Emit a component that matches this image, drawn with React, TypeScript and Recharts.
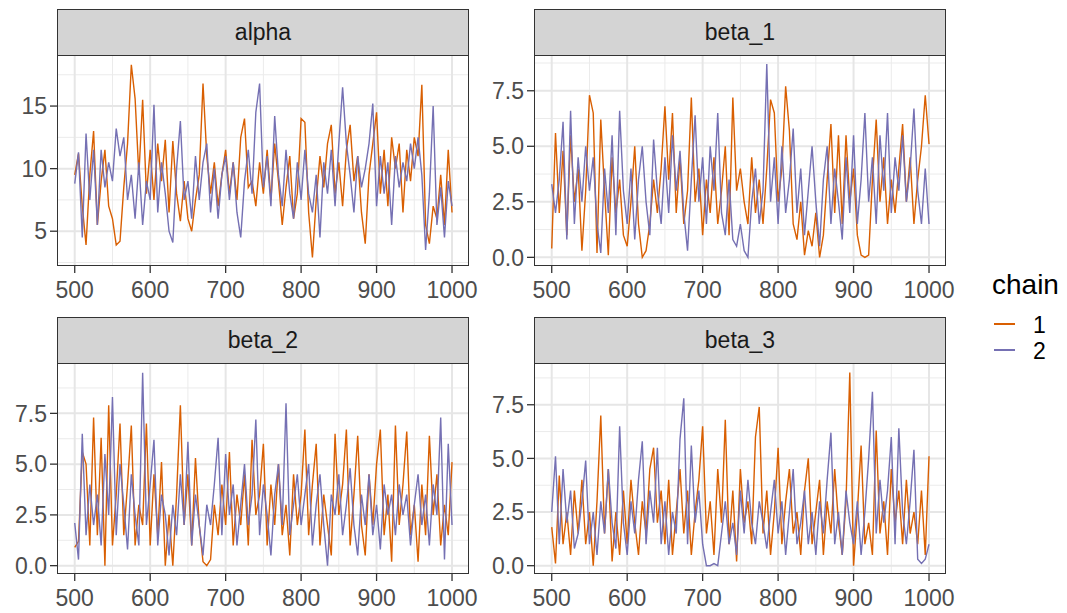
import React from "react";
import { LineChart, Line, XAxis, YAxis, CartesianGrid } from "recharts";

// x categories: MCMC iterations (sampled every 5 iterations)
const iterations: number[] = Array.from({ length: 101 }, (_, i) => 500 + i * 5);

const xTicks = [500, 600, 700, 800, 900, 1000];
const xMinor = [550, 650, 750, 850, 950];

const alphaChain1 = [
  9.5, 11.2, 7.0, 3.9, 9.5, 13.0, 5.5, 9.0, 11.5, 7.0,
  6.0, 3.9, 4.2, 8.5, 12.0, 18.3, 15.6, 9.5, 15.5, 8.0,
  11.5, 7.5, 12.0, 9.0, 12.3, 6.5, 12.2, 8.0, 5.8, 9.0,
  6.0, 5.0, 7.5, 9.5, 16.8, 11.0, 8.0, 10.5, 7.0, 9.5,
  11.5, 8.0, 10.5, 7.5, 12.5, 14.0, 8.5, 9.0, 7.0, 10.5,
  8.0, 11.5, 7.5, 12.0, 9.0, 5.5, 8.5, 11.0, 6.0, 8.0,
  14.0, 13.7, 6.5, 2.9, 7.5, 11.0, 8.5, 12.0, 13.5, 8.0,
  10.5, 7.0, 11.5, 13.5, 9.0, 11.0, 6.5, 4.0, 9.5, 12.0,
  14.5, 8.0, 11.5, 7.0, 12.5, 10.0, 12.0, 6.5, 11.5, 9.0,
  12.5, 11.0, 16.7, 5.5, 4.0, 7.0, 6.0, 9.5, 5.5, 11.5,
  6.5,
];
const alphaChain2 = [
  8.8, 11.3, 4.5, 12.8, 7.5, 11.5, 5.5, 11.5, 8.5, 10.5,
  9.0, 13.2, 11.0, 12.5, 7.5, 9.5, 6.0, 10.5, 5.5, 9.0,
  7.5, 15.1, 6.5, 10.5, 8.0, 5.0, 4.1, 10.0, 13.8, 7.5,
  9.0, 6.0, 11.0, 7.5, 10.5, 12.0, 6.5, 10.0, 6.0, 9.5,
  11.0, 7.5, 10.5, 6.5, 4.5, 9.0, 11.5, 8.0, 14.5, 16.8,
  8.5, 11.0, 7.0, 14.2, 9.5, 7.0, 11.5, 8.0, 6.0, 10.5,
  7.5, 11.5, 8.0, 6.5, 9.5, 4.5, 10.5, 8.0, 11.5, 7.0,
  12.0, 16.5, 12.0, 9.5, 6.5, 11.0, 8.5, 10.0, 12.0, 15.2,
  7.0, 11.0, 8.0, 10.5, 5.5, 11.0, 8.5, 10.5, 9.0, 12.0,
  10.0, 12.5, 9.5, 3.5, 8.0, 15.0, 5.5, 8.5, 4.5, 9.0,
  7.0,
];

const beta1Chain1 = [
  0.4, 5.6, 2.0, 4.8, 1.0, 5.5, 2.5, 4.0, 0.3, 3.0,
  7.3, 6.5, 0.2, 6.2, 3.0, 0.1, 4.5, 2.0, 3.5, 1.0,
  0.5, 2.5, 5.0, 1.5, 0.0, 0.3, 1.5, 3.5, 2.0, 4.0,
  6.8, 3.5, 6.5, 2.0, 4.5, 1.5, 3.0, 7.2, 2.5, 4.0,
  1.0, 3.5, 2.0, 4.5, 1.5, 3.0, 5.0, 1.0, 7.2, 3.0,
  4.0, 2.5, 1.5, 4.5, 2.0, 3.5, 1.5, 4.0, 7.1, 6.5,
  2.5, 4.0, 7.7, 5.7, 1.5, 0.8, 2.5, 0.1, 1.2, 0.5,
  2.0, 0.0, 1.0, 3.5, 6.0, 2.0, 5.5, 1.5, 5.5, 2.5,
  4.0, 1.0, 0.1, 0.0, 0.1, 3.5, 6.2, 2.5, 4.5, 1.5,
  3.5, 2.0, 4.0, 6.0, 2.5, 4.5, 1.5, 3.5, 5.0, 7.3,
  5.1,
];
const beta1Chain2 = [
  3.3, 2.0, 3.5, 6.1, 0.8, 6.6, 1.5, 4.5, 2.5, 5.0,
  3.0, 4.5, 1.5, 0.2, 4.0, 2.0, 5.5, 1.0, 6.6, 3.0,
  1.5, 4.0, 0.8, 3.5, 5.0, 2.5, 1.0, 5.3, 3.0, 1.5,
  4.5, 2.0, 5.5, 3.0, 4.8, 2.0, 0.3, 3.5, 6.4, 2.5,
  4.5, 1.5, 5.0, 3.0, 6.5, 2.0, 1.0, 3.5, 0.8, 0.5,
  1.5, 0.3, 0.0, 2.5, 4.0, 1.5, 3.0, 8.7, 2.5, 4.5,
  1.5, 5.0, 2.0, 3.5, 5.8, 2.0, 4.0, 1.0, 3.0, 5.0,
  2.5, 0.5, 3.5, 5.0, 1.5, 4.0, 2.5, 0.8, 4.5, 2.0,
  5.5, 1.5, 3.5, 6.5, 2.5, 4.5, 1.5, 5.5, 3.0, 6.5,
  2.0, 4.5, 3.0, 5.5, 2.5, 4.0, 6.7, 3.0, 1.5, 4.0,
  1.5,
];

const beta2Chain1 = [
  0.9, 1.2, 5.6, 5.0, 1.0, 7.3, 1.5, 6.3, 0.0, 7.9,
  1.0, 3.5, 7.0, 1.5, 4.0, 6.9, 1.0, 3.0, 2.0, 7.0,
  1.0, 4.5, 1.5, 5.1, 0.0, 2.5, 0.0, 3.5, 7.9, 2.0,
  4.5, 1.0, 5.3, 2.0, 0.2, 0.0, 0.3, 3.0, 1.5, 4.0,
  2.0, 5.6, 1.0, 3.5, 2.0, 4.5, 1.0, 6.2, 2.5, 3.5,
  6.0, 1.0, 4.0, 2.0, 5.0, 1.5, 3.0, 0.5, 4.5, 2.0,
  3.5, 6.7, 1.5, 4.0, 6.0, 1.0, 3.5, 2.0, 0.5, 6.5,
  2.5, 4.0, 6.7, 1.0, 3.5, 6.4, 2.0, 0.5, 4.5, 2.0,
  5.0, 6.7, 1.5, 3.5, 0.2, 6.9, 2.0, 4.0, 6.6, 1.5,
  3.0, 0.2, 4.0, 1.5, 6.4, 2.5, 4.5, 1.0, 3.0, 1.5,
  5.1,
];
const beta2Chain2 = [
  2.1, 0.3, 6.5, 1.5, 4.0, 2.0, 3.5, 1.0, 5.5, 2.5,
  8.3, 1.5, 5.0, 3.0, 0.8, 4.5, 2.5, 1.0, 9.5, 2.0,
  4.0, 6.2, 1.0, 3.5, 2.5, 0.5, 3.0, 1.5, 4.5, 2.0,
  6.1, 1.0, 3.5, 2.0, 0.5, 3.0, 2.0, 4.0, 6.3, 1.5,
  5.5, 2.5, 4.0, 1.0, 3.0, 5.0, 2.0, 3.5, 7.2, 1.5,
  4.0, 2.5, 0.5, 3.5, 5.0, 2.0, 8.0, 1.5, 3.0, 4.5,
  2.0, 3.5, 5.0, 1.0, 3.0, 4.5, 2.0, 0.0, 3.5, 2.5,
  4.5, 1.5, 3.0, 4.8, 2.0, 0.5, 3.5, 2.0, 4.5, 1.5,
  3.0, 0.8, 4.0, 2.5, 3.5, 1.5, 4.0, 2.5, 3.5, 1.0,
  3.0, 4.5, 2.0, 3.5, 1.0, 4.0, 2.5, 7.3, 0.3, 6.0,
  2.0,
];

const beta3Chain1 = [
  1.8, 0.1, 4.2, 1.0, 2.5, 0.5, 3.5, 1.5, 4.0, 1.0,
  2.5, 0.0, 3.0, 7.0, 1.5, 4.5, 0.2, 2.5, 0.5, 3.5,
  1.0, 4.0, 2.0, 0.5, 3.0, 1.5, 4.5, 5.5, 2.0, 3.5,
  1.0, 4.0, 0.5, 2.5, 4.5, 1.5, 3.5, 0.5, 2.5, 4.0,
  6.5, 1.5, 3.0, 0.5, 4.5, 2.0, 6.8, 1.0, 3.5, 0.2,
  4.5, 2.0, 3.0, 1.0, 6.0, 7.4, 1.5, 3.5, 0.5, 2.5,
  5.5, 1.0, 3.0, 4.5, 1.5, 2.5, 0.5, 3.5, 5.0, 1.0,
  2.5, 4.0, 0.5, 3.0, 1.5, 4.5, 2.0, 0.5, 3.0, 9.0,
  0.0, 2.5, 5.6, 1.0, 2.0, 0.5, 6.3, 1.5, 3.0, 0.5,
  4.5, 2.0, 3.5, 1.0, 4.0, 1.5, 2.5, 1.0, 3.5, 0.5,
  5.1,
];
const beta3Chain2 = [
  2.5, 5.1, 1.0, 4.5, 2.0, 3.5, 0.8, 1.5, 3.0, 4.9,
  1.0, 2.5, 0.5, 3.0, 1.5, 4.5, 2.0, 0.8, 6.5, 2.0,
  0.5, 3.0, 1.5, 4.0, 5.8, 1.0, 3.5, 2.0, 5.5, 1.0,
  3.0, 0.5, 2.5, 1.5, 5.9, 7.8, 1.0, 5.6, 2.0, 3.5,
  1.0, 0.0, 0.0, 0.1, 0.0, 1.5, 3.0, 1.0, 2.0, 0.5,
  3.5, 1.5, 4.0, 2.0, 1.0, 3.0, 2.0, 0.8, 2.5, 4.0,
  1.5, 3.0, 0.5, 2.5, 4.5, 1.0, 2.0, 3.5, 1.0, 2.5,
  0.5, 3.0, 1.5, 4.0, 6.2, 1.0, 2.5, 0.5, 3.5, 2.0,
  1.0, 3.0, 0.5, 2.5, 5.0, 8.1, 1.5, 4.0, 2.0, 3.5,
  6.0, 1.0, 6.4, 2.5, 1.0, 3.0, 5.4, 0.3, 0.1, 0.3,
  1.0,
];

const chainLabels = ["1", "2"];
const chainColors = ["#D95F02", "#7570B3"];

const FONT = "'Liberation Sans', Arial, Helvetica, sans-serif";

type PanelProps = {
  title: string;
  left: number;
  top: number;
  c1: number[];
  c2: number[];
  domain: [number, number];
  yTicks: number[];
  yMinor: number[];
  fmt: (v: number) => string;
};

const PLOT_W = 412;
const Y_W = 57;
const RIGHT_PAD = 32;
const PLOT_H = 211;
const X_H = 42;
const STRIP_H = 46;

function Panel({ title, left, top, c1, c2, domain, yTicks, yMinor, fmt }: PanelProps) {
  const data = iterations.map((it, i) => ({ iter: it, c1: c1[i], c2: c2[i] }));
  return (
    <>
      <div
        style={{
          position: "absolute",
          left: left + Y_W,
          top: top - STRIP_H,
          width: PLOT_W,
          height: STRIP_H,
          boxSizing: "border-box",
          background: "#D4D4D4",
          border: "1.3px solid #333333",
          borderBottom: "none",
          display: "flex",
          alignItems: "center",
          justifyContent: "center",
          fontFamily: FONT,
          fontSize: 23,
          color: "#1A1A1A",
        }}
      >
        {title}
      </div>
      <div style={{ position: "absolute", left, top }}>
        <LineChart
          width={Y_W + PLOT_W + RIGHT_PAD}
          height={PLOT_H + X_H}
          data={data}
          margin={{ top: 0, right: RIGHT_PAD, bottom: 0, left: 0 }}
        >
          <CartesianGrid
            stroke="#EBEBEB"
            strokeWidth={1}
            horizontalValues={yMinor}
            verticalValues={xMinor}
          />
          <CartesianGrid
            stroke="#E6E6E6"
            strokeWidth={2}
            horizontalValues={yTicks}
            verticalValues={xTicks}
          />
          <XAxis
            dataKey="iter"
            type="number"
            domain={[476.5, 1022.5]}
            allowDataOverflow
            ticks={xTicks}
            height={X_H}
            axisLine={false}
            tickSize={7}
            tickMargin={9}
            tickLine={{ stroke: "#333333", strokeWidth: 1.3 }}
            tick={{ fill: "#4D4D4D", fontSize: 23, fontFamily: FONT }}
          />
          <YAxis
            type="number"
            domain={domain}
            allowDataOverflow
            ticks={yTicks}
            width={Y_W}
            axisLine={false}
            tickSize={7}
            tickMargin={3}
            tickFormatter={fmt}
            tickLine={{ stroke: "#333333", strokeWidth: 1.3 }}
            tick={{ fill: "#4D4D4D", fontSize: 23, fontFamily: FONT }}
          />
          <Line
            dataKey="c1"
            stroke={chainColors[0]}
            strokeWidth={1.4}
            dot={false}
            isAnimationActive={false}
          />
          <Line
            dataKey="c2"
            stroke={chainColors[1]}
            strokeWidth={1.4}
            dot={false}
            isAnimationActive={false}
          />
        </LineChart>
      </div>
      <div
        style={{
          position: "absolute",
          left: left + Y_W,
          top,
          width: PLOT_W,
          height: PLOT_H,
          boxSizing: "border-box",
          border: "1.3px solid #333333",
          pointerEvents: "none",
        }}
      />
    </>
  );
}

const betaTicks = [0, 2.5, 5, 7.5];
const betaMinor = [1.25, 3.75, 6.25, 8.75];
const fmt1 = (v: number) => v.toFixed(1);
const fmt0 = (v: number) => String(v);

export default function App() {
  return (
    <div
      style={{
        position: "absolute",
        left: 0,
        top: 0,
        width: 1067,
        height: 613,
        background: "#FFFFFF",
        overflow: "hidden",
      }}
    >
      <Panel
        title="alpha"
        left={0}
        top={55}
        c1={alphaChain1}
        c2={alphaChain2}
        domain={[2.22, 19.08]}
        yTicks={[5, 10, 15]}
        yMinor={[2.5, 7.5, 12.5, 17.5]}
        fmt={fmt0}
      />
      <Panel
        title="beta_1"
        left={477}
        top={55}
        c1={beta1Chain1}
        c2={beta1Chain2}
        domain={[-0.39, 9.11]}
        yTicks={betaTicks}
        yMinor={betaMinor}
        fmt={fmt1}
      />
      <Panel
        title="beta_2"
        left={0}
        top={363}
        c1={beta2Chain1}
        c2={beta2Chain2}
        domain={[-0.41, 9.98]}
        yTicks={betaTicks}
        yMinor={betaMinor}
        fmt={fmt1}
      />
      <Panel
        title="beta_3"
        left={477}
        top={363}
        c1={beta3Chain1}
        c2={beta3Chain2}
        domain={[-0.387, 9.446]}
        yTicks={betaTicks}
        yMinor={betaMinor}
        fmt={fmt1}
      />
      {/* legend */}
      <div
        style={{
          position: "absolute",
          left: 992,
          top: 268,
          fontFamily: FONT,
          fontSize: 28,
          color: "#000000",
          lineHeight: "34px",
        }}
      >
        chain
      </div>
      {chainLabels.map((lab, i) => (
        <div key={lab}>
          <div
            style={{
              position: "absolute",
              left: 994,
              top: 323 + i * 26,
              width: 21,
              height: 2,
              background: chainColors[i],
            }}
          />
          <div
            style={{
              position: "absolute",
              left: 1033,
              top: 311 + i * 26,
              fontFamily: FONT,
              fontSize: 23,
              lineHeight: "28px",
              color: "#000000",
            }}
          >
            {lab}
          </div>
        </div>
      ))}
    </div>
  );
}
